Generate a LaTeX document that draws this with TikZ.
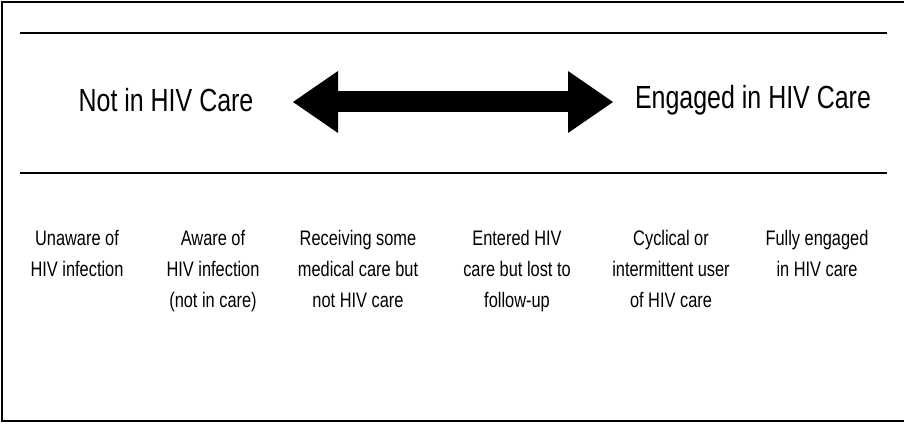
\documentclass[tikz,border=0pt]{standalone}
\usepackage{fontspec}
\setmainfont{Liberation Sans}[FakeStretch=0.78]
\usetikzlibrary{arrows.meta}

\begin{document}
\begin{tikzpicture}[
    x=1pt,
    y=1pt,
    rule/.style={
      line width=2.5pt
    },
    heading/.style={
      font=\fontsize{32}{36}\selectfont,
      inner sep=0pt
    },
    stage/.style={
      font=\fontsize{21}{31}\selectfont,
      align=center,
      anchor=north,
      inner sep=0pt
    },
    bigarrow/.style={
      line width=21pt,
      {Triangle[length=45pt,width=62pt,line width=0pt]}-{Triangle[length=45pt,width=62pt,line width=0pt]}
    }
  ]
    \useasboundingbox (0,0) rectangle (904,423);
    \draw[line width=2pt] (2,2) rectangle (908,421);

    \draw[rule] (20,390) -- (887,390);
    \draw[rule] (20,250) -- (887,250);

    \node[heading] (notcare) at (166,323) {Not in HIV Care};
    \node[heading] (incare) at (753,323) {Engaged in HIV Care};

    \coordinate (arrL) at (293,321);
    \coordinate (arrR) at (613,321);
    \draw[bigarrow] (arrL) -- (arrR);

    \foreach \x/\n/\l in {77/1/{Unaware of\\HIV infection},
                          213/2/{Aware of\\HIV infection\\(not in care)},
                          358/3/{Receiving some\\medical care but\\not HIV care},
                          517/4/{Entered HIV\\care but lost to\\follow-up},
                          671/5/{Cyclical or\\intermittent user\\of HIV care},
                          817/6/{Fully engaged\\in HIV care}}
      \node[stage] (col\n) at (\x,193) {\l};
  \end{tikzpicture}
\end{document}
